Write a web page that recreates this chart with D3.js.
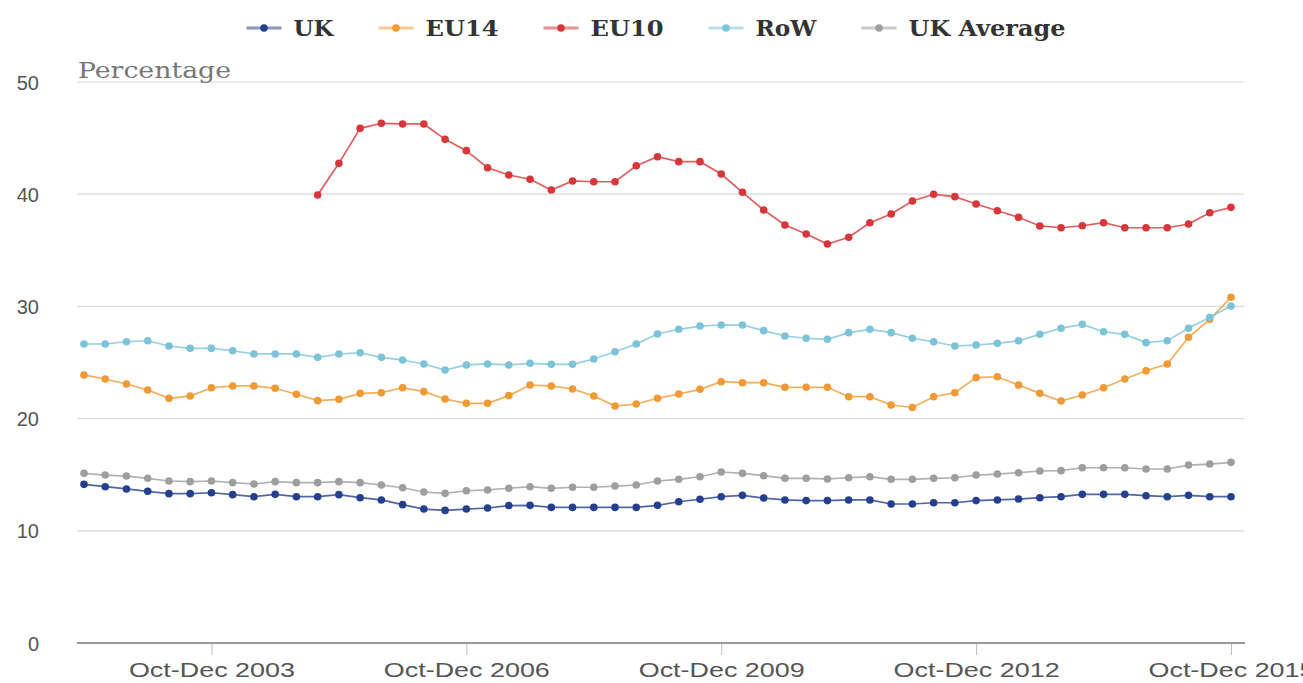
<!DOCTYPE html>
<html>
<head>
<meta charset="utf-8">
<script src="https://cdn.jsdelivr.net/npm/d3@7"></script>
<style>
html,body{margin:0;padding:0;background:#fff;}
svg{display:block;}
</style>
</head>
<body>
<svg id="chart" width="1303" height="683"></svg>
<script>
// ---- data ----
const startYear = 2002, startQuarter = 1; // 0=Jan-Mar, 1=Apr-Jun ...
const quarterNames = ["Jan-Mar","Apr-Jun","Jul-Sep","Oct-Dec"];
const categories = [];
for (let i = 0; i < 55; i++) {
  const q = (startQuarter + i) % 4;
  const y = startYear + Math.floor((startQuarter + i) / 4);
  categories.push(quarterNames[q] + " " + y);
}
const xTickLabels = ["Oct-Dec 2003","Oct-Dec 2006","Oct-Dec 2009","Oct-Dec 2012","Oct-Dec 2015"];
const yTicks = [0,10,20,30,40,50];

const ukValues = [14.14,13.93,13.73,13.52,13.31,13.31,13.39,13.22,13.04,13.25,13.04,13.04,13.22,12.95,12.75,12.33,11.94,11.82,11.94,12.03,12.25,
  12.27,12.09,12.09,12.09,12.09,12.09,12.27,12.59,12.81,13.04,13.16,12.92,12.75,12.69,12.69,12.75,12.75,12.39,12.39,12.50,
  12.50,12.69,12.75,12.83,12.95,13.04,13.25,13.25,13.25,13.13,13.04,13.16,13.04,13.04];
const eu14Values = [23.89,23.53,23.08,22.55,21.81,22.01,22.75,22.91,22.91,22.70,22.17,21.60,21.72,22.25,22.31,22.75,22.40,21.75,21.36,21.36,22.05,
  22.99,22.91,22.64,22.01,21.12,21.30,21.81,22.19,22.61,23.29,23.20,23.20,22.79,22.79,22.79,21.95,21.95,21.21,20.99,21.95,
  22.31,23.65,23.73,22.99,22.25,21.57,22.10,22.75,23.53,24.27,24.87,27.25,28.85,30.81];
const eu10Values = [null,null,null,null,null,null,null,null,null,null,null,
  39.93,42.75,45.87,46.32,46.26,46.26,44.89,43.88,42.36,41.71,
  41.33,40.37,41.18,41.11,41.11,42.54,43.34,42.90,42.90,41.80,40.17,38.59,37.25,36.45,35.56,36.16,37.46,38.24,39.40,39.99,
  39.78,39.13,38.53,37.94,37.17,37.01,37.19,37.46,37.01,37.01,37.01,37.34,38.35,38.83];
const rowValues = [26.65,26.65,26.85,26.94,26.47,26.26,26.26,26.05,25.76,25.76,25.76,25.46,25.76,25.87,25.46,25.22,24.87,24.33,24.78,24.87,24.78,
  24.93,24.84,24.84,25.31,25.96,26.65,27.54,27.96,28.25,28.34,28.34,27.84,27.36,27.16,27.07,27.66,27.96,27.66,27.16,26.85,
  26.47,26.56,26.71,26.94,27.51,28.05,28.40,27.74,27.51,26.77,26.94,28.05,29.03,30.04];
const ukAvgValues = [15.12,14.97,14.88,14.68,14.44,14.38,14.44,14.29,14.17,14.38,14.29,14.29,14.38,14.29,14.08,13.84,13.46,13.34,13.57,13.64,13.79,
  13.93,13.79,13.88,13.88,13.99,14.08,14.44,14.59,14.82,15.24,15.12,14.91,14.68,14.68,14.62,14.73,14.82,14.59,14.59,14.68,
  14.73,14.97,15.06,15.18,15.33,15.36,15.62,15.62,15.62,15.51,15.51,15.86,15.95,16.10];

const seriesNames = ["UK","EU14","EU10","RoW","UK Average"];
const seriesColors = ["#253f8f","#f09a35","#d7363b","#7cc3d9","#9e9e9e"];
const seriesValues = [ukValues, eu14Values, eu10Values, rowValues, ukAvgValues];

// ---- chart ----
const svg = d3.select("#chart");
const plotLeft = 77, plotRight = 1244;
const x = d3.scaleLinear().domain([0, categories.length - 1]).range([84, 1231]);
const y = d3.scaleLinear().domain([0, 50]).range([643, 82]);

// gridlines
const grid = svg.append("g");
grid.selectAll("line").data(yTicks.filter(d => d > 0)).join("line")
  .attr("x1", plotLeft).attr("x2", plotRight)
  .attr("y1", d => y(d)).attr("y2", d => y(d))
  .attr("stroke", "#d9d9d9").attr("stroke-width", 1.2);

// y axis labels
const yAxis = d3.axisLeft(y).tickValues(yTicks).tickSize(0).tickPadding(0);
const gy = svg.append("g").attr("transform", "translate(39,0)").call(yAxis);
gy.select(".domain").remove();
gy.selectAll("text").attr("font-family", "Liberation Sans, Arial, sans-serif")
  .attr("font-size", 20).attr("fill", "#555").attr("dy", "0.35em");

// x axis
const tickIdx = xTickLabels.map(l => categories.indexOf(l));
const xAxis = d3.axisBottom(x).tickValues(tickIdx).tickFormat(i => categories[i]).tickSize(12).tickPadding(8);
const gx = svg.append("g").attr("transform", `translate(0,${y(0)})`).call(xAxis);
gx.select(".domain").remove();
gx.selectAll(".tick line").attr("stroke", "#bbb").attr("stroke-width", 1);
gx.selectAll("text").attr("font-family", "Liberation Sans, Arial, sans-serif")
  .attr("font-size", 20).attr("fill", "#555")
  .attr("textLength", 166).attr("lengthAdjust", "spacingAndGlyphs");
svg.append("line").attr("x1", plotLeft).attr("x2", plotRight + 1)
  .attr("y1", y(0)).attr("y2", y(0)).attr("stroke", "#999").attr("stroke-width", 2);

// axis title
svg.append("text").attr("x", 78).attr("y", 78).text("Percentage")
  .attr("font-family", "DejaVu Serif, serif").attr("font-size", 22).attr("font-weight", 300)
  .attr("fill", "#777").attr("textLength", 153).attr("lengthAdjust", "spacingAndGlyphs");

// lines and points
const line = d3.line().defined(d => d != null).x((d, i) => x(i)).y(d => y(d));
seriesValues.forEach((vals, s) => {
  const g = svg.append("g");
  g.append("path").datum(vals).attr("d", line)
    .attr("fill", "none").attr("stroke", seriesColors[s]).attr("stroke-width", 1.7)
    .attr("stroke-opacity", 0.8);
  g.selectAll("circle").data(vals.map((v, i) => ({v, i})).filter(d => d.v != null)).join("circle")
    .attr("cx", d => x(d.i)).attr("cy", d => y(d.v)).attr("r", 3.8)
    .attr("fill", seriesColors[s]);
});

// legend
const legend = svg.append("g");
const legendTextWidths = [40, 73, 73, 61, 157];
const symW = 35, symGap = 12, itemGap = 45;
let lx = 0;
seriesNames.forEach((name, s) => {
  const it = legend.append("g");
  it.append("line").attr("x1", 0).attr("x2", symW).attr("y1", 0).attr("y2", 0)
    .attr("stroke", seriesColors[s]).attr("stroke-width", 3).attr("stroke-opacity", 0.55);
  it.append("circle").attr("cx", symW / 2).attr("cy", 0).attr("r", 3.8).attr("fill", seriesColors[s]);
  it.append("text").attr("x", symW + symGap).attr("y", 0).attr("dy", "0.35em").text(name)
    .attr("font-family", "DejaVu Serif, serif").attr("font-weight", "bold")
    .attr("font-size", 22).attr("fill", "#333")
    .attr("textLength", legendTextWidths[s]).attr("lengthAdjust", "spacingAndGlyphs");
  it.attr("transform", `translate(${lx},0)`);
  lx += symW + symGap + legendTextWidths[s] + itemGap;
});
const totalW = lx - itemGap;
legend.attr("transform", `translate(${656 - totalW / 2},28)`);
</script>
</body>
</html>
